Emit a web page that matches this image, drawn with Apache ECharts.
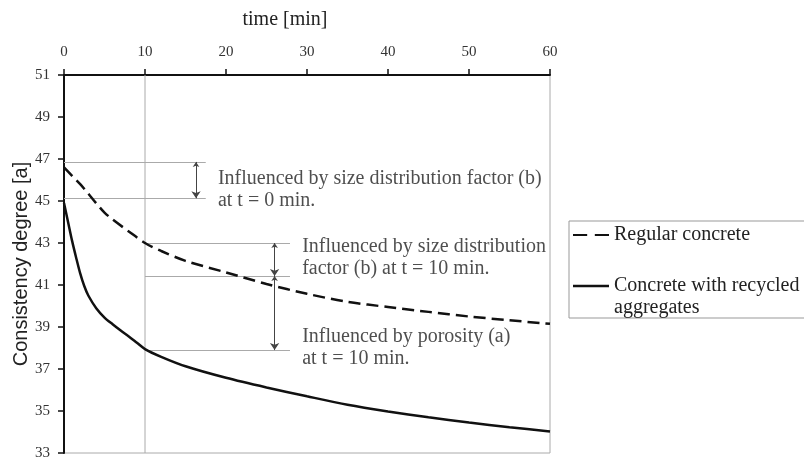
<!DOCTYPE html>
<html>
<head>
<meta charset="utf-8">
<script src="https://cdn.jsdelivr.net/npm/echarts@6/dist/echarts.min.js"></script>
<style>html,body{margin:0;padding:0;background:#fff;}#c{width:804px;height:458px;}</style>
</head>
<body>
<div id="c"></div>
<script>
// ---- data ----
const regT = [0, 1, 2, 3, 4, 5, 6, 8, 10, 12, 15, 20, 25, 30, 35, 40, 45, 50, 55, 60];
const regV = [46.6, 46.2, 45.8, 45.35, 44.88, 44.45, 44.12, 43.55, 43.0, 42.62, 42.15, 41.6, 41.05, 40.58, 40.2, 39.95, 39.72, 39.5, 39.32, 39.15];
const recT = [0, 0.5, 1, 1.5, 2, 2.5, 3, 4, 5, 6, 7, 8, 9, 10, 12, 15, 20, 25, 30, 35, 40, 45, 50, 55, 60];
const recV = [44.9, 44.0, 43.1, 42.3, 41.55, 40.95, 40.5, 39.88, 39.45, 39.13, 38.83, 38.55, 38.25, 37.95, 37.58, 37.13, 36.58, 36.12, 35.7, 35.3, 34.98, 34.7, 34.45, 34.23, 34.02];
const xTicks = [0, 10, 20, 30, 40, 50, 60];
const yTicks = [33, 35, 37, 39, 41, 43, 45, 47, 49, 51];
const seriesNames = ['Regular concrete', 'Concrete with recycled aggregates'];
// annotation guide lines (value coords)
const refY  = [46.86, 45.13, 43.0, 41.43, 37.9];
const refX0 = [0, 0, 10, 10, 10];
const refX1 = [17.5, 17.5, 27.9, 27.9, 27.9];
const arrowX  = [16.3, 26.0, 26.0];
const arrowY0 = [46.86, 43.0, 41.43];
const arrowY1 = [45.13, 41.43, 37.9];
const vLineX = [10];
const annoT = [19.0, 29.4, 29.4];
const annoV = [45.52, 42.31, 38.02];
const annoText = [
  'Influenced by size distribution factor (b)\nat t = 0 min.',
  'Influenced by size distribution\nfactor (b) at t = 10 min.',
  'Influenced by porosity (a)\nat t = 10 min.'
];

const serif = 'Liberation Serif';
const chart = echarts.init(document.getElementById('c'), null, {renderer: 'canvas'});

const zip = (a, b) => a.map((v, i) => [v, b[i]]);

chart.setOption({
  animation: false,
  backgroundColor: '#fff',
  grid: {left: 64, top: 75, width: 486, height: 378, show: true, borderColor: '#aaa', borderWidth: 1,
         containLabel: false, outerBoundsMode: 'none'},
  xAxis: {
    type: 'value', position: 'top', min: xTicks[0], max: xTicks[xTicks.length - 1], interval: 10,
    name: 'time [min]', nameLocation: 'middle', nameGap: 45, nameMoveOverlap: false,
    nameTextStyle: {fontFamily: serif, fontSize: 20, color: '#222', padding: [0, 44, 0, 0]},
    axisLine: {show: true, onZero: false, lineStyle: {color: '#111', width: 2}},
    axisTick: {show: true, inside: false, length: 6, lineStyle: {color: '#111', width: 1.5}},
    axisLabel: {fontFamily: serif, fontSize: 15, color: '#333', margin: 15},
    splitLine: {show: false}
  },
  yAxis: {
    type: 'value', min: yTicks[0], max: yTicks[yTicks.length - 1], interval: 2,
    name: 'Consistency degree [a]', nameLocation: 'middle', nameGap: 33, nameMoveOverlap: false,
    nameTextStyle: {fontFamily: 'Liberation Sans', fontSize: 20, color: '#222'},
    axisLine: {show: true, onZero: false, lineStyle: {color: '#111', width: 2}},
    axisTick: {show: true, inside: false, length: 6, lineStyle: {color: '#111', width: 1.5}},
    axisLabel: {fontFamily: serif, fontSize: 15, color: '#333', margin: 14},
    splitLine: {show: false}
  },
  legend: {
    orient: 'vertical', left: 573, top: 224, padding: 0, itemGap: 7,
    itemWidth: 36, itemHeight: 2.5,
    textStyle: {fontFamily: serif, fontSize: 20, color: '#222', lineHeight: 22},
    data: [
      {name: seriesNames[0], icon: 'path://M0,0h13v2h-13zM20,0h13v2h-13z'},
      {name: seriesNames[1], icon: 'rect'}
    ],
    formatter: function (n) { return n === seriesNames[1] ? ' \nConcrete with recycled\naggregates' : n; }
  },
  graphic: [{
    type: 'rect', shape: {x: 569, y: 221, width: 300, height: 97},
    style: {fill: 'none', stroke: '#999', lineWidth: 1}, silent: true, z: 0
  }],
  series: [
    {
      name: 'vline', type: 'line', data: [[vLineX[0], yTicks[0]], [vLineX[0], yTicks[yTicks.length - 1]]],
      symbol: 'none', lineStyle: {color: '#aaa', width: 1}, silent: true, z: 1
    },
    {
      name: 'guides', type: 'lines', coordinateSystem: 'cartesian2d', silent: true, z: 1,
      lineStyle: {color: '#aaa', width: 1, opacity: 1},
      data: refY.map((y, i) => ({coords: [[refX0[i], y], [refX1[i], y]]}))
    },
    {
      name: 'arrows', type: 'lines', coordinateSystem: 'cartesian2d', silent: true, z: 2,
      symbol: ['arrow', 'arrow'], symbolSize: [5, 7],
      lineStyle: {color: '#444', width: 1, opacity: 1},
      data: arrowX.map((x, i) => ({coords: [[x, arrowY0[i]], [x, arrowY1[i]]]}))
    },
    {
      name: seriesNames[0], type: 'line', data: zip(regT, regV), smooth: 0.3,
      symbol: 'none', lineStyle: {color: '#111', width: 2.5, type: [12, 6]}, itemStyle: {color: '#111'}, z: 3
    },
    {
      name: seriesNames[1], type: 'line', data: zip(recT, recV), smooth: 0.3,
      symbol: 'none', lineStyle: {color: '#111', width: 2.5, type: 'solid'}, itemStyle: {color: '#111'}, z: 3
    },
    {
      name: 'notes', type: 'scatter', symbolSize: 0, silent: true, z: 4,
      data: annoT.map((t, i) => ({value: [t, annoV[i]], name: annoText[i]})),
      label: {
        show: true, position: 'right', distance: 0, formatter: '{b}',
        fontFamily: serif, fontSize: 20, color: '#222', lineHeight: 22, align: 'left'
      }
    }
  ]
});
</script>
</body>
</html>
